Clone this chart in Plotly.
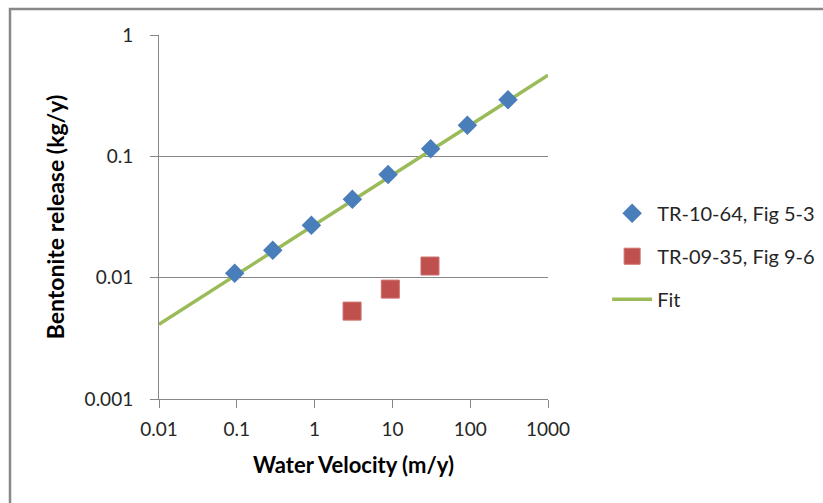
import plotly.graph_objects as go

# ---- data ----
tr1064_x = [0.094, 0.29, 0.91, 3.06, 8.8, 31, 92, 306]
tr1064_y = [0.0109, 0.0168, 0.027, 0.0442, 0.0707, 0.1157, 0.180, 0.293]

tr0935_x = [3.03, 9.4, 30.4]
tr0935_y = [0.0053, 0.00805, 0.01247]

fit_x = [0.01, 1000]
fit_y = [0.00412, 0.466]

x_ticks = [0.01, 0.1, 1, 10, 100, 1000]
x_tick_labels = ["0.01", "0.1", "1", "10", "100", "1000"]
y_ticks = [0.001, 0.01, 0.1, 1]
y_tick_labels = ["0.001", "0.01", "0.1", "1"]

FONT = "Lato, Carlito, 'Liberation Sans', sans-serif"
GRID = "#878787"
TXT = "#262626"

fig = go.Figure()

fig.add_trace(go.Scatter(
    x=fit_x, y=fit_y, mode="lines", name="Fit",
    line=dict(color="#9BBB59", width=3.5),
    legendgroup="c", legendrank=3,
))
fig.add_trace(go.Scatter(
    x=tr1064_x, y=tr1064_y, mode="markers", name="TR-10-64, Fig 5-3",
    marker=dict(symbol="diamond", size=15, color="#4A7EBB",
                line=dict(width=0)),
    legendgroup="a", legendrank=1,
))
fig.add_trace(go.Scatter(
    x=tr0935_x, y=tr0935_y, mode="markers", name="TR-09-35, Fig 9-6",
    marker=dict(symbol="square", size=18, color="#C0504D",
                line=dict(width=1, color="#CD6E6B")),
    legendgroup="b", legendrank=2,
))

fig.update_layout(
    width=823, height=503,
    margin=dict(l=159, r=275, t=35, b=104, autoexpand=False),
    paper_bgcolor="white", plot_bgcolor="white",
    font=dict(family=FONT, size=19, color=TXT),
    showlegend=True,
    legend=dict(
        x=1.152, y=0.564, xanchor="left", yanchor="top",
        traceorder="grouped", tracegroupgap=14,
        font=dict(family=FONT, size=20, color=TXT),
        bgcolor="rgba(0,0,0,0)", itemwidth=40,
    ),
    xaxis=dict(
        type="log", range=[-2, 3],
        tickmode="array", tickvals=x_ticks, ticktext=x_tick_labels,
        showgrid=False, zeroline=False,
        showline=True, linecolor=GRID, linewidth=1,
        ticks="outside", ticklen=8, tickcolor=GRID, tickwidth=1,
        tickfont=dict(family=FONT, size=19, color=TXT),
        ticklabelstandoff=5,
        title=dict(text="<b>Water Velocity (m/y)</b>",
                   font=dict(family=FONT, size=22, color="#000000"),
                   standoff=18),
    ),
    yaxis=dict(
        type="log", range=[-3, 0],
        tickmode="array", tickvals=y_ticks, ticktext=y_tick_labels,
        showgrid=True, gridcolor=GRID, gridwidth=1,
        zeroline=False,
        showline=True, linecolor=GRID, linewidth=1,
        ticks="outside", ticklen=8, tickcolor=GRID, tickwidth=1,
        tickfont=dict(family=FONT, size=19, color=TXT),
        ticklabelstandoff=13,
        title=dict(text="<b>Bentonite release (kg/y)</b>",
                   font=dict(family=FONT, size=23, color="#000000"),
                   standoff=13),
    ),
    shapes=[dict(
        type="rect", xref="paper", yref="paper",
        x0=(10 - 159) / 389, x1=(840 - 159) / 389,
        y0=(399 - 520) / 364, y1=(399 - 9) / 364,
        line=dict(color="#888888", width=2.5), fillcolor="rgba(0,0,0,0)",
        layer="below",
    )],
)

fig.write_html("out.html")
